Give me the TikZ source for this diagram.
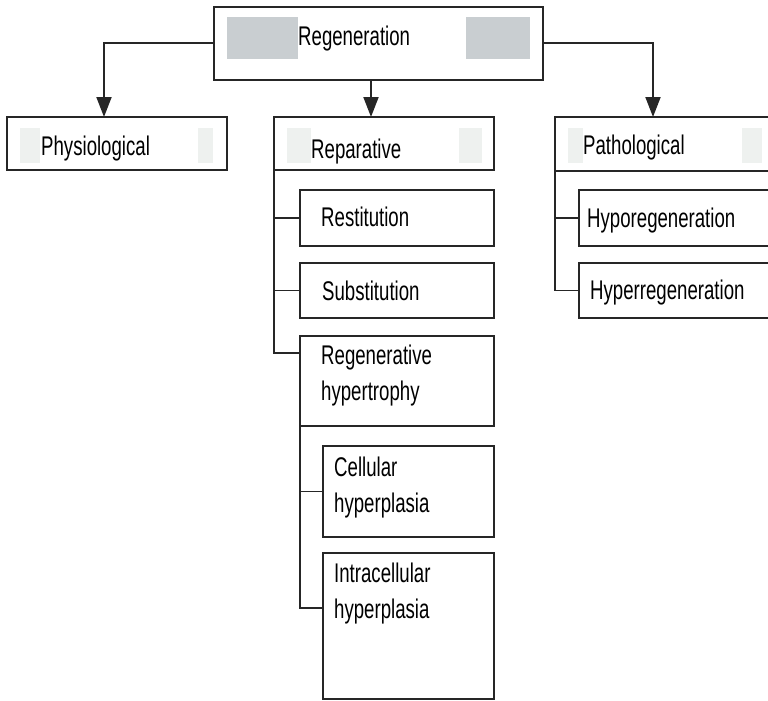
\documentclass[tikz,border=0pt]{standalone}
\usepackage{fontspec}
\setmainfont{Liberation Sans}[FakeStretch=0.69]
\usetikzlibrary{arrows.meta}
\definecolor{ink}{HTML}{262626}
\definecolor{shadeA}{HTML}{C9CED1}
\definecolor{shadeB}{HTML}{EEF1EF}
\tikzset{
  box/.style={draw=ink, line width=2pt, fill=white, inner sep=0pt, outer sep=0pt, anchor=north west},
  txt/.style={font=\fontsize{27}{36}\selectfont, text=black, inner sep=0pt, anchor=base west, align=left},
  conn/.style={draw=ink, line width=1.9pt},
  arr/.style={conn, -{Triangle[width=15pt,length=20pt]}},
  patchA/.style={fill=shadeA, draw=none},
  patchB/.style={fill=shadeB, draw=none}
}
\begin{document}
\begin{tikzpicture}[x=1pt,y=-1pt]
\useasboundingbox (0,0) rectangle (768,701);
\clip (0,0) rectangle (768,701);
% boxes
\node[box, minimum width=329pt, minimum height=73pt] (regen) at (214,7) {};
\node[box, minimum width=220pt, minimum height=53pt] (phys) at (7,117) {};
\node[box, minimum width=220pt, minimum height=53pt] (rep) at (274,117) {};
\node[box, minimum width=240pt, minimum height=54pt] (path) at (555,117) {};
\node[box, minimum width=194pt, minimum height=56pt] (rest) at (300,190) {};
\node[box, minimum width=194pt, minimum height=55pt] (subs) at (300,263) {};
\node[box, minimum width=194pt, minimum height=90pt] (rh) at (300,336) {};
\node[box, minimum width=171pt, minimum height=91pt] (cell) at (323,446) {};
\node[box, minimum width=171pt, minimum height=146pt] (intra) at (323,553) {};
\node[box, minimum width=220pt, minimum height=56pt] (hypo) at (579,190) {};
\node[box, minimum width=220pt, minimum height=55pt] (hyper) at (579,263) {};
% shaded patches
\fill[patchA] (227,17) rectangle (298,59);
\fill[patchA] (466,17) rectangle (530,59);
\fill[patchB] (20,128) rectangle (40,163);
\fill[patchB] (198,128) rectangle (213,163);
\fill[patchB] (287,128) rectangle (311,163);
\fill[patchB] (459,128) rectangle (482,163);
\fill[patchB] (568,128) rectangle (583,163);
\fill[patchB] (742,128) rectangle (762,163);
% texts
\node[txt] (regen-t) at (298,46) {Regeneration};
\node[txt] (phys-t) at (41,155) {Physiological};
\node[txt] (rep-t) at (311,158) {Reparative};
\node[txt] (path-t) at (583,154) {Pathological};
\node[txt] (rest-t) at (321,226) {Restitution};
\node[txt] (subs-t) at (322,300) {Substitution};
\node[txt] (rh-t) at (321,400) {Regenerative\\hypertrophy};
\node[txt] (cell-t) at (334,512) {Cellular\\hyperplasia};
\node[txt] (intra-t) at (334,618) {Intracellular\\hyperplasia};
\node[txt] (hypo-t) at (587,227) {Hyporegeneration};
\node[txt] (hyper-t) at (590,299) {Hyperregeneration};
% connectors
\draw[arr] (regen.west |- 0,43) -| (phys.north -| 104,0);
\draw[arr] (regen.east |- 0,43) -| (path.north -| 653,0);
\draw[arr] (regen.south -| 371,0) -- (rep.north -| 371,0);
\draw[conn] (rep.south west) |- (rh.west |- 0,353);
\draw[conn] (rep.south west |- rest.west) -- (rest.west);
\draw[conn] (rep.south west |- subs.west) -- (subs.west);
\draw[conn] (rh.south west) |- (intra.west |- 0,608);
\draw[conn] (rh.south west |- cell.west) -- (cell.west);
\draw[conn] (path.south west) |- (hyper.west);
\draw[conn] (path.south west |- hypo.west) -- (hypo.west);
\end{tikzpicture}
\end{document}
